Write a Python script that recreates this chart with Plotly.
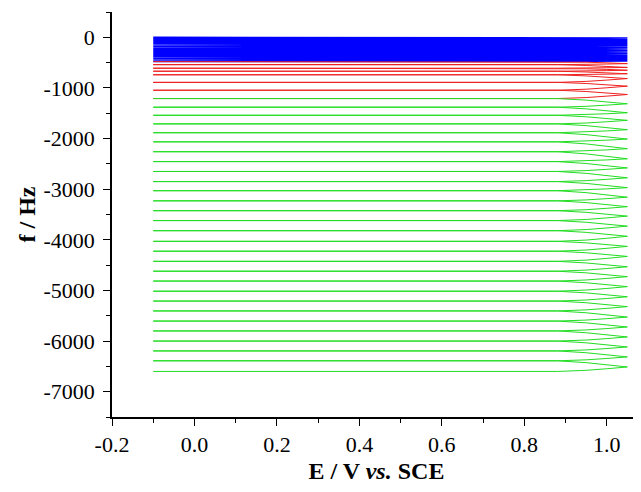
import plotly.graph_objects as go

# ---- data ----
# frequency level (Hz) at -0.1 V at the start of each cycle (last value = end of last cycle)
BLUE_LEVELS = [0, -20, -45, -70, -95, -120, -150, -180, -210, -240, -270, -300,
               -330, -360, -390, -420, -450, -480]
BLUE_TIPS = [-12, -35, -60, -85, -110, -138, -168, -198, -228, -258, -288, -318,
             -348, -378, -408, -438, -468]

RED_LEVELS = [-480, -540, -610, -670, -740, -890, -1045, -1210]
RED_TIPS = [-520, -595, -650, -720, -815, -965, -1130]

GREEN_LEVELS = [-1210, -1380, -1540, -1710, -1885, -2065, -2260, -2455, -2650,
                -2850, -3030, -3230, -3425, -3620, -3820, -4030, -4225, -4425,
                -4620, -4815, -5015, -5210, -5405, -5605, -5800, -6000, -6195,
                -6390, -6600]
GREEN_TIPS = [-1313, -1490, -1640, -1825, -2010, -2200, -2400, -2580, -2775,
              -2970, -3158, -3346, -3532, -3730, -3930, -4130, -4328, -4532,
              -4728, -4925, -5125, -5320, -5526, -5722, -5919, -6116, -6313,
              -6512]

# potential sweep sample points (V vs SCE) and shape of the frequency drop
E_FWD = [-0.1, 0.88, 0.95, 1.0, 1.05]
FWD_FRAC = [0.0, 0.0, 0.3, 0.6, 1.0]
E_BWD = [1.05, 1.0, 0.95, 0.88, -0.1]
BWD_FRAC = [0.0, 0.4, 0.75, 1.0, 1.0]

X_TICKS = [-0.2, 0.0, 0.2, 0.4, 0.6, 0.8, 1.0]
X_TICK_LABELS = ["-0.2", "0.0", "0.2", "0.4", "0.6", "0.8", "1.0"]
Y_TICKS = [0, -1000, -2000, -3000, -4000, -5000, -6000, -7000]
Y_TICK_LABELS = ["0", "-1000", "-2000", "-3000", "-4000", "-5000", "-6000", "-7000"]


def cycles(levels, tips):
    xs, ys = [], []
    for n, tip in enumerate(tips):
        start, end = levels[n], levels[n + 1]
        for e, fr in zip(E_FWD, FWD_FRAC):
            xs.append(e)
            ys.append(start + fr * (tip - start))
        for e, fr in zip(E_BWD, BWD_FRAC):
            xs.append(e)
            ys.append(tip + fr * (end - tip))
    return xs, ys


fig = go.Figure()
for levels, tips, color, w in [
    (BLUE_LEVELS, BLUE_TIPS, "#0000ff", 1.4),
    (RED_LEVELS, RED_TIPS, "#ee2020", 1.0),
    (GREEN_LEVELS, GREEN_TIPS, "#22dd22", 1.0),
]:
    xs, ys = cycles(levels, tips)
    fig.add_trace(go.Scatter(x=xs, y=ys, mode="lines",
                             line=dict(color=color, width=w), showlegend=False))

font = dict(family="Liberation Serif", size=22, color="black")
title_font = dict(family="Liberation Serif", size=24, color="black")

# the page body adds an 8 px offset, so the figure is sized to fit the window
fig.update_layout(
    width=633, height=484,
    margin=dict(l=104, r=0, t=4, b=75),
    paper_bgcolor="white", plot_bgcolor="white",
    font=font,
    xaxis=dict(
        range=[-0.2, 1.083], showline=True, linecolor="black", linewidth=1.5,
        showgrid=False, zeroline=False, mirror=False, automargin=False,
        tickmode="array", tickvals=X_TICKS, ticktext=X_TICK_LABELS,
        ticks="outside", ticklen=7, tickwidth=1.3, tickcolor="black",
        minor=dict(dtick=0.1, tick0=-0.2, ticks="outside", ticklen=4,
                   tickwidth=1.3, tickcolor="black"),
        tickfont=font,
        title=dict(text="<b>E / V <i>vs.</i> SCE</b>", font=title_font,
                   standoff=6),
    ),
    yaxis=dict(
        range=[-7500, 500], showline=True, linecolor="black", linewidth=1.5,
        showgrid=False, zeroline=False, mirror=False, automargin=False,
        tickmode="array", tickvals=Y_TICKS, ticktext=Y_TICK_LABELS,
        ticks="outside", ticklen=7, tickwidth=1.3, tickcolor="black",
        minor=dict(dtick=500, tick0=0, ticks="outside", ticklen=4,
                   tickwidth=1.3, tickcolor="black"),
        tickfont=font, ticklabelstandoff=4,
        title=dict(text="<b>f / Hz</b>", font=title_font, standoff=1),
    ),
)

fig.write_html("out.html")
